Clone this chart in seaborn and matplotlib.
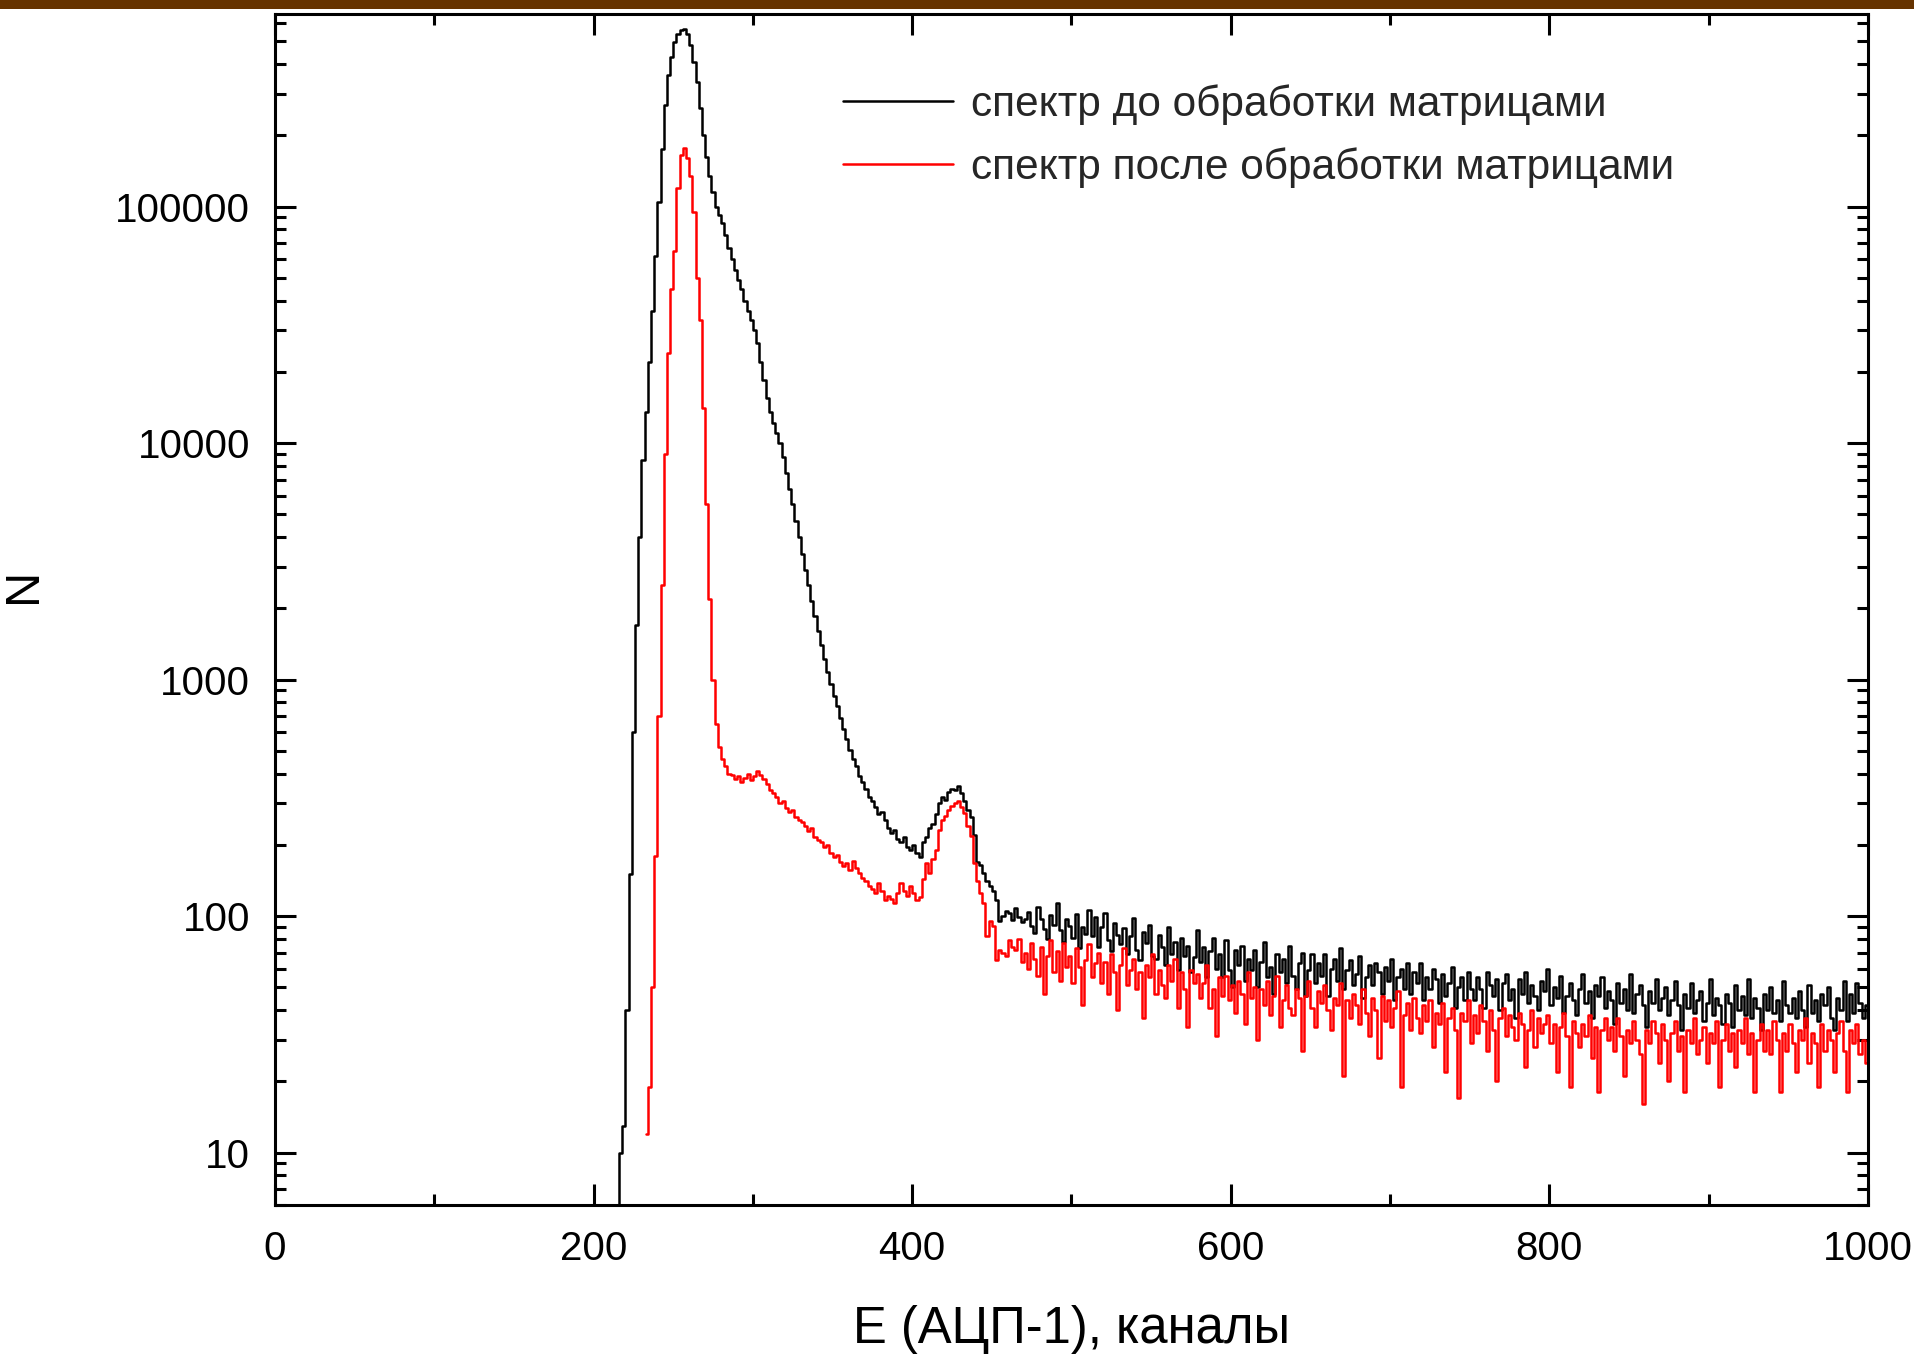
import numpy as np
import pandas as pd
import matplotlib
matplotlib.use("Agg")
import matplotlib.pyplot as plt
from matplotlib import ticker
from matplotlib.patches import Rectangle
import seaborn as sns

# ---------------- data (counts per 2-channel bin) ----------------
bin_width = 2
black_first_center = 215
red_first_center = 233

black_label = "спектр до обработки матрицами"
red_label = "спектр после обработки матрицами"

black_counts = [
    0, 10, 13, 40, 150, 600, 1700, 4000, 8500, 13500,
    22000, 36000, 62000, 105000, 175000, 270000, 360000, 430000, 495000, 535000,
    560000, 562000, 535000, 480000, 410000, 335000, 260000, 200000, 162000, 135000,
    115000, 100000, 92000, 85000, 76000, 67000, 60000, 54000, 49000, 45000,
    40000, 36000, 33000, 30000, 26500, 22000, 18500, 15500, 13500, 12200,
    11000, 10000, 8700, 7500, 6400, 5500, 4700, 4000, 3400, 2900,
    2500, 2150, 1850, 1600, 1400, 1220, 1080, 960, 850, 770,
    690, 620, 560, 505, 460, 430, 390, 370, 345, 318,
    305, 290, 270, 275, 255, 235, 225, 232, 212, 205,
    215, 195, 190, 200, 185, 178, 205, 215, 235, 245,
    270, 300, 320, 310, 335, 343, 340, 356, 330, 305,
    280, 262, 220, 170, 165, 152, 140, 134, 128, 117,
    95, 100, 105, 103, 96, 108, 99, 94, 97,
    104, 91, 85, 109, 97, 88, 80, 101, 92, 113,
    87, 78, 97, 91, 81, 102, 73, 90, 84, 106,
    82, 99, 74, 90, 103, 79, 71, 93, 83, 76,
    89, 69, 82, 98, 72, 65, 86, 77, 92, 68,
    66, 83, 74, 62, 90, 69, 78, 59, 81, 68,
    75, 58, 67, 87, 64, 74, 55, 71, 81, 60,
    69, 55, 79, 59, 50, 72, 62, 75, 53, 66,
    59, 72, 50, 64, 78, 55, 61, 47, 69, 58,
    66, 52, 75, 56, 49, 63, 70, 46, 59, 69,
    52, 63, 56, 69, 46, 60, 66, 53, 73, 49,
    59, 65, 51, 57, 68, 45, 55, 62, 51, 63,
    58, 47, 61, 53, 66, 44, 55, 60, 49, 63,
    47, 58, 52, 63, 44, 55, 49, 60, 54, 43,
    57, 46, 52, 61, 41, 50, 55, 44, 58, 49,
    44, 55, 49, 41, 58, 51, 46, 54, 40, 52,
    57, 44, 49, 37, 54, 47, 58, 43, 51, 46,
    40, 53, 48, 60, 42, 50, 45, 56, 39, 46,
    52, 44, 38, 49, 57, 43, 48, 37, 51, 46,
    55, 41, 48, 44, 35, 52, 43, 49, 40, 57,
    39, 47, 51, 42, 34, 48, 43, 54, 40, 45,
    50, 38, 44, 53, 42, 33, 47, 41, 52, 39,
    44, 48, 36, 43, 54, 38, 45, 42, 35, 47,
    43, 34, 51, 40, 46, 38, 54, 37, 45, 41,
    33, 47, 40, 50, 39, 44, 36, 53, 42, 39,
    45, 37, 48, 40, 34, 51, 39, 44, 36, 47,
    42, 50, 37, 33, 45, 40, 53, 36, 47, 39,
    52, 43, 37, 42,
]

red_counts = [
    12, 19, 50, 180, 700, 2500, 9000, 24000, 45000, 65000,
    120000, 165000, 177000, 160000, 135000, 95000, 50000, 33000, 14000, 5500,
    2200, 1000, 650, 520, 460, 430, 400, 395, 380, 390,
    370, 385, 400, 375, 390, 410, 395, 380, 360, 340,
    330, 320, 300, 305, 285, 275, 280, 262, 255, 250,
    240, 228, 235, 215, 210, 205, 195, 200, 185, 178,
    182, 170, 162, 168, 157, 171, 160, 152, 145, 140,
    134, 130, 125, 138, 128, 117, 122, 118, 114, 125,
    138, 128, 122, 134, 125, 117, 120, 143, 168, 152,
    175, 191, 232, 255, 264, 280, 291, 300, 305, 290,
    273, 240, 217, 168, 140, 125, 114, 82, 95, 91,
    65, 72, 70, 68, 79, 74, 72, 80, 64, 70,
    60, 77, 66,
    56, 74, 47, 68, 79, 58, 71, 53, 77, 61,
    68, 52, 73, 61, 42, 65, 76, 55, 63, 70,
    52, 64, 47, 69, 58, 40, 62, 73, 51, 59,
    66, 49, 58, 37, 62, 55, 69, 47, 59, 51,
    45, 62, 53, 66, 41, 58, 49, 34, 59, 52,
    57, 45, 52, 62, 41, 49, 31, 55, 46, 56,
    44, 51, 39, 53, 47, 35, 58, 45, 50, 30,
    49, 42, 53, 38, 46, 56, 34, 44, 51, 41,
    38, 49, 45, 27, 46, 53, 41, 34, 48, 43,
    51, 40, 33, 45, 42, 52, 21, 44, 37, 47,
    42, 35, 49, 39, 31, 45, 40, 25, 46, 36,
    44, 34, 41, 48, 19, 38, 43, 33, 45, 37,
    32, 42, 36, 44, 28, 39, 35, 43, 22, 37,
    41, 33, 17, 39, 36, 44, 29, 38, 32, 42,
    36, 27, 40, 33, 20, 37, 41, 31, 38, 34,
    30, 39, 35, 23, 33, 40, 28, 37, 32, 35,
    38, 29, 35, 22, 34, 39, 31, 19, 36, 32,
    28, 35, 31, 38, 25, 34, 18, 33, 37, 30,
    34, 27, 37, 31, 21, 33, 29, 36, 30, 26,
    16, 33, 29, 36, 32, 24, 35, 30, 20, 32,
    36, 27, 31, 18, 33, 29, 37, 26, 30, 34,
    24, 32, 29, 36, 19, 30, 35, 27, 32, 23,
    33, 29, 37, 26, 32, 18, 30, 35, 27, 33,
    26, 36, 30, 18, 32, 27, 35, 29, 22, 33,
    30, 37, 24, 32, 29, 19, 35, 27, 33, 30,
    22, 32, 36, 27, 18, 33, 29, 35, 26, 30,
    24,
]

x_ticks = [0, 200, 400, 600, 800, 1000]
x_label = "E (АЦП-1), каналы"
y_label = "N"

# ---------------- figure ----------------
sns.set_style("ticks")
plt.rcParams["font.family"] = ["Liberation Sans", "DejaVu Sans"]

W, H = 1915, 1356
fig = plt.figure(figsize=(W / 100, H / 100), dpi=100)
fig.patch.set_facecolor("white")
fig.patches.append(Rectangle((0, 1 - 9 / H), 1, 9 / H, transform=fig.transFigure,
                             facecolor="#663300", edgecolor="none", zorder=0))

left, right, bottom, top = 275 / W, 1868 / W, 1 - 1205 / H, 1 - 13.5 / H
ax = fig.add_axes([left, bottom, right - left, top - bottom])
ax.set_facecolor("white")

black_df = pd.DataFrame({
    "E": black_first_center + bin_width * np.arange(len(black_counts)),
    "N": black_counts,
})
red_df = pd.DataFrame({
    "E": red_first_center + bin_width * np.arange(len(red_counts)),
    "N": red_counts,
})

sns.lineplot(data=black_df, x="E", y="N", ax=ax, color="black", lw=1.8,
             drawstyle="steps-mid", estimator=None, label=black_label)
sns.lineplot(data=red_df, x="E", y="N", ax=ax, color="#ff0000", lw=1.8,
             drawstyle="steps-mid", estimator=None, label=red_label)

ax.set_yscale("log")
ax.set_xlim(0, 1000)
ax.set_ylim(6.0, 655000)

ax.xaxis.set_major_locator(ticker.FixedLocator(x_ticks))
ax.xaxis.set_minor_locator(ticker.MultipleLocator(100))
ax.yaxis.set_major_locator(ticker.LogLocator(base=10, numticks=12))
ax.yaxis.set_minor_locator(ticker.LogLocator(base=10, subs=np.arange(2, 10), numticks=40))
ax.yaxis.set_major_formatter(ticker.FuncFormatter(lambda v, p: f"{int(round(v))}"))
ax.yaxis.set_minor_formatter(ticker.NullFormatter())
ax.xaxis.set_major_formatter(ticker.FuncFormatter(lambda v, p: f"{int(round(v))}"))

ax.tick_params(axis="both", which="both", direction="in", top=True, right=True,
               width=2.2, color="black", labelsize=29, pad=18, labelcolor="black")
ax.tick_params(which="major", length=15)
ax.tick_params(which="minor", length=8)
for sp in ax.spines.values():
    sp.set_visible(True)
    sp.set_linewidth(2.2)
    sp.set_color("black")
ax.grid(False)

ax.set_xlabel(x_label, fontsize=36.5, labelpad=27, color="black")
ax.set_ylabel(y_label, fontsize=35, color="black")
ax.yaxis.set_label_coords(-0.1437, 0.52)

leg = ax.legend(loc="upper left", bbox_to_anchor=(843 / W, 1 - 84 / H),
                bbox_transform=fig.transFigure, frameon=False, fontsize=30.5,
                handlelength=2.6, handletextpad=0.42, labelspacing=0.53,
                borderpad=0, borderaxespad=0)
for line in leg.get_lines():
    line.set_linewidth(1.8)

fig.savefig("out.png", dpi=100, facecolor="white")
